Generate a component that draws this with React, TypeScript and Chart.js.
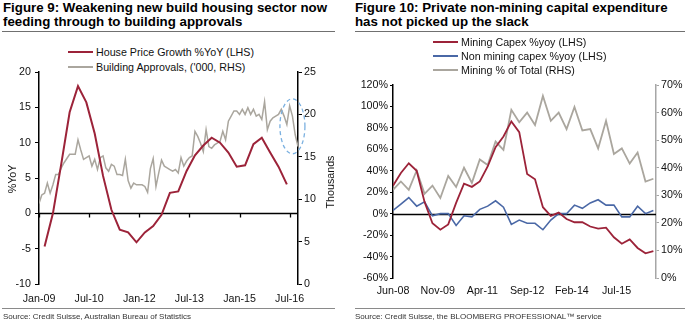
import React, { useEffect, useRef } from "react";
import { Chart, registerables } from "chart.js";

Chart.register(...registerables);

// ---------------- Figure 9 data ----------------
const fig9TickMonths = [0, 18, 36, 54, 72, 90];
const fig9TickLabels = ["Jan-09", "Jul-10", "Jan-12", "Jul-13", "Jan-15", "Jul-16"];
// House price growth, quarterly, months since Jan-09
const housePriceMonths = [2, 5, 8, 11, 14, 17, 20, 23, 26, 29, 32, 35, 38, 41, 44, 47, 50, 53, 56, 59, 62, 65, 68, 71, 74, 77, 80, 83, 86, 89];
const housePriceGrowth = [-4.7, 0.0, 7.0, 14.3, 18.0, 15.7, 11.3, 5.3, 0.5, -2.3, -2.7, -4.1, -2.7, -1.8, -0.2, 2.9, 3.1, 6.0, 8.2, 9.6, 10.7, 10.0, 8.6, 6.6, 6.8, 9.8, 10.7, 8.6, 6.6, 4.1];
// Building approvals ('000), monthly from Jan-09
const approvalsStartMonth = 0;
const buildingApprovals = [
  9.5, 10.5, 10.7, 11.9, 10.7, 11.7, 12.9, 12.9, 13.7, 14.3,
  14.8, 15.3, 15.3, 15.3, 17.0, 15.8, 14.7, 14.9, 15.1, 13.9,
  14.7, 13.5, 14.9, 15.1, 13.7, 13.3, 14.1, 13.9, 12.9, 12.9,
  12.8, 14.7, 12.2, 11.3, 11.9, 11.7, 11.7, 11.7, 11.5, 10.8,
  13.6, 14.8, 11.5, 13.1, 14.6, 13.9, 13.7, 13.5, 13.3, 13.5,
  13.1, 14.9, 13.9, 14.5, 14.9, 15.1, 18.0, 17.4, 16.6, 15.6,
  18.2, 16.2, 16.0, 16.4, 16.6, 16.8, 18.0, 17.0, 19.2, 19.8,
  20.4, 20.4, 20.0, 20.6, 20.0, 20.8, 20.0, 20.6, 19.8, 20.0,
  19.4, 21.5, 18.2, 19.2, 19.6, 19.8, 20.0, 20.6, 19.8, 18.8,
  21.0, 19.8, 17.6, 16.2,
];

// ---------------- Figure 10 data ----------------
const fig10TickMonths = [0, 17, 34, 51, 68, 85];
const fig10TickLabels = ["Jun-08", "Nov-09", "Apr-11", "Sep-12", "Feb-14", "Jul-15"];
// quarterly from Jun-08
const miningCapex = [26, 38, 47, 40, 11, -9, -15, -10, 10, 28, 25, 30, 44, 62, 72, 86, 76, 37, 32, 6, -2, 1, -5, -8, -8, -12, -14, -13, -22, -28, -24, -32, -37, -35];
const nonMiningCapex = [3, 9, 15, 7, 11, -2, 0, 0, -11, -2, -3, 4, 7, 12, 6, -10, -6, -9, -9, -15, -6, 0, 0, 8, 5, 10, 13, 8, 8, -3, -3, 7, 0, 3];
const miningShare = [32, 35, 32, 39, 30.5, 33.5, 29, 37, 33, 40, 34.5, 43, 41, 49.5, 46.5, 61, 56.5, 60, 55.5, 66, 57, 60, 54, 62, 53.5, 54, 47, 57, 45, 47, 41.5, 45.5, 35, 36];

const FONT = "'Liberation Sans', Arial, sans-serif";
const RED = "#9c2339";
const GRAY = "#aaa69e";
const BLUE = "#4a68a6";
const TICK_SIZE = 10.7;

const zeroLinePlugin = {
  id: "zeroLine",
  beforeDatasetsDraw(chart: any, _a: any, opts: any) {
    const { ctx, chartArea, scales } = chart;
    const y = Math.round(scales.y.getPixelForValue(0)) + 0.5;
    ctx.save();
    ctx.strokeStyle = "#000";
    ctx.lineWidth = 1.3;
    ctx.beginPath();
    ctx.moveTo(chartArea.left, y);
    ctx.lineTo(chartArea.right, y);
    if (opts && opts.ticks) {
      for (const t of scales.x.ticks) {
        const x = Math.round(scales.x.getPixelForValue(t.value)) + 0.5;
        ctx.moveTo(x, y);
        ctx.lineTo(x, y + 4);
      }
    }
    ctx.stroke();
    ctx.restore();
  },
};

const ellipsePlugin = {
  id: "ellipseNote",
  afterDatasetsDraw(chart: any, _a: any, opts: any) {
    if (!opts || opts.x === undefined) return;
    const { ctx, scales } = chart;
    const cx = scales.x.getPixelForValue(opts.x);
    const cy = scales[opts.scale].getPixelForValue(opts.y);
    ctx.save();
    ctx.strokeStyle = "#7ab0e0";
    ctx.lineWidth = 1.3;
    ctx.setLineDash([4, 3]);
    ctx.beginPath();
    ctx.ellipse(cx, cy, opts.rx, opts.ry, 0, 0, Math.PI * 2);
    ctx.stroke();
    ctx.restore();
  },
};

function Fig9() {
  const ref = useRef<HTMLCanvasElement>(null);
  useEffect(() => {
    const chart = new Chart(ref.current as HTMLCanvasElement, {
      type: "line",
      data: {
        datasets: [
          {
            label: "House Price Growth %YoY (LHS)",
            data: housePriceMonths.map((m, i) => ({ x: m, y: housePriceGrowth[i] })),
            borderColor: RED,
            borderWidth: 2,
            pointRadius: 0,
            tension: 0,
            yAxisID: "y",
          },
          {
            label: "Building Approvals, ('000, RHS)",
            data: buildingApprovals.map((v, i) => ({ x: approvalsStartMonth + i, y: v })),
            borderColor: GRAY,
            borderWidth: 1.5,
            pointRadius: 0,
            tension: 0,
            yAxisID: "y2",
          },
        ],
      },
      options: {
        responsive: false,
        devicePixelRatio: 1,
        animation: false,
        layout: { padding: { top: 12, bottom: 0, left: 0, right: 0 } },
        plugins: {
          legend: { display: false },
          tooltip: { enabled: false },
          zeroLine: { ticks: true },
          ellipseNote: { x: 91, y: 18.6, scale: "y2", rx: 12.5, ry: 27.5 },
        } as any,
        scales: {
          x: {
            type: "linear",
            min: 0,
            max: 93,
            grid: { display: false, drawTicks: false },
            border: { display: false },
            ticks: {
              color: "#111",
              font: { family: FONT, size: TICK_SIZE },
              padding: 9,
              maxRotation: 0,
              callback: (v: any) => {
                const k = fig9TickMonths.indexOf(Number(v));
                return k >= 0 ? fig9TickLabels[k] : "";
              },
            },
            afterBuildTicks: (s: any) => {
              s.ticks = fig9TickMonths.map((v) => ({ value: v }));
            },
            afterFit: (s: any) => {
              s.height = 26;
            },
          },
          y: {
            position: "left",
            min: -10,
            max: 20,
            ticks: { stepSize: 5, color: "#111", font: { family: FONT, size: TICK_SIZE }, padding: 4 },
            grid: { drawOnChartArea: false, drawTicks: true, tickLength: 4, color: "#000" },
            border: { display: true, color: "#000", width: 1.5 },
            afterFit: (s: any) => {
              s.width = 39;
            },
          },
          y2: {
            position: "right",
            min: 0,
            max: 25,
            ticks: { stepSize: 5, color: "#111", font: { family: FONT, size: TICK_SIZE }, padding: 2 },
            grid: { drawOnChartArea: false, drawTicks: true, tickLength: 4, color: "#000" },
            border: { display: true, color: "#000", width: 1.5 },
            afterFit: (s: any) => {
              s.width = 47;
            },
          },
        },
      },
      plugins: [zeroLinePlugin, ellipsePlugin],
    } as any);
    return () => chart.destroy();
  }, []);
  return (
    <canvas
      ref={ref}
      width={345}
      height={250}
      style={{ position: "absolute", left: 0, top: 60, width: 345, height: 250 }}
    />
  );
}

function Fig10() {
  const ref = useRef<HTMLCanvasElement>(null);
  useEffect(() => {
    const chart = new Chart(ref.current as HTMLCanvasElement, {
      type: "line",
      data: {
        datasets: [
          {
            label: "Mining Capex %yoy (LHS)",
            data: miningCapex.map((v, i) => ({ x: i * 3, y: v })),
            borderColor: RED,
            borderWidth: 1.8,
            pointRadius: 0,
            tension: 0,
            yAxisID: "y",
          },
          {
            label: "Non mining capex %yoy (LHS)",
            data: nonMiningCapex.map((v, i) => ({ x: i * 3, y: v })),
            borderColor: BLUE,
            borderWidth: 1.6,
            pointRadius: 0,
            tension: 0,
            yAxisID: "y",
          },
          {
            label: "Mining % of Total (RHS)",
            data: miningShare.map((v, i) => ({ x: i * 3, y: v })),
            borderColor: GRAY,
            borderWidth: 1.8,
            pointRadius: 0,
            tension: 0,
            yAxisID: "y2",
          },
        ],
      },
      options: {
        responsive: false,
        devicePixelRatio: 1,
        animation: false,
        layout: { padding: { top: 10, bottom: 0, left: 0, right: 0 } },
        plugins: {
          legend: { display: false },
          tooltip: { enabled: false },
          zeroLine: { ticks: false },
        } as any,
        scales: {
          x: {
            type: "linear",
            min: 0,
            max: 100,
            grid: { display: false, drawTicks: false },
            border: { display: false },
            ticks: {
              color: "#111",
              font: { family: FONT, size: TICK_SIZE },
              padding: 7,
              maxRotation: 0,
              callback: (v: any) => {
                const k = fig10TickMonths.indexOf(Number(v));
                return k >= 0 ? fig10TickLabels[k] : "";
              },
            },
            afterBuildTicks: (s: any) => {
              s.ticks = fig10TickMonths.map((v) => ({ value: v }));
            },
            afterFit: (s: any) => {
              s.height = 32;
            },
          },
          y: {
            position: "left",
            min: -60,
            max: 120,
            ticks: {
              stepSize: 20,
              color: "#111",
              font: { family: FONT, size: TICK_SIZE },
              padding: 2,
              callback: (v: any) => v + "%",
            },
            grid: { drawOnChartArea: false, drawTicks: true, tickLength: 3, color: "#000" },
            border: { display: true, color: "#000", width: 1.5 },
            afterFit: (s: any) => {
              s.width = 48;
            },
          },
          y2: {
            position: "right",
            min: 0,
            max: 70,
            ticks: {
              stepSize: 10,
              color: "#111",
              font: { family: FONT, size: TICK_SIZE },
              padding: 2,
              callback: (v: any) => v + "%",
            },
            grid: { drawOnChartArea: false, drawTicks: true, tickLength: 3, color: "#a6a6a6" },
            border: { display: true, color: "#a6a6a6", width: 1.5 },
            afterFit: (s: any) => {
              s.width = 33;
            },
          },
        },
      },
      plugins: [zeroLinePlugin],
    } as any);
    return () => chart.destroy();
  }, []);
  return (
    <canvas
      ref={ref}
      width={344}
      height={235}
      style={{ position: "absolute", left: 345, top: 75, width: 344, height: 235 }}
    />
  );
}

const titleStyle: React.CSSProperties = {
  position: "absolute",
  fontFamily: FONT,
  fontWeight: "bold",
  fontSize: 13.3,
  lineHeight: "14.3px",
  color: "#000",
  whiteSpace: "nowrap",
  margin: 0,
};

const textStyle: React.CSSProperties = {
  position: "absolute",
  fontFamily: FONT,
  fontSize: TICK_SIZE,
  lineHeight: "12px",
  color: "#111",
  whiteSpace: "nowrap",
};

function LegendRow(props: { x: number; y: number; color: string; label: string }) {
  return (
    <>
      <div
        style={{ position: "absolute", left: props.x, top: props.y - 1, width: 25, height: 2, background: props.color }}
      />
      <div style={{ ...textStyle, left: props.x + 28, top: props.y - 6 }}>{props.label}</div>
    </>
  );
}

export default function App() {
  return (
    <div
      style={{
        position: "absolute",
        left: 0,
        top: 0,
        width: 689,
        height: 324,
        background: "#fff",
        overflow: "hidden",
      }}
    >
      {/* Figure 9 */}
      <div style={{ ...titleStyle, left: 3, top: 1 }}>
        Figure 9: Weakening new build housing sector now
        <br />
        feeding through to building approvals
      </div>
      <div style={{ position: "absolute", left: 2, top: 31, width: 333, height: 0, borderTop: "1.5px solid #707070" }} />
      <LegendRow x={68} y={52} color={RED} label="House Price Growth %YoY (LHS)" />
      <LegendRow x={68} y={67} color={GRAY} label="Building Approvals, ('000, RHS)" />
      <Fig9 />
      <div
        style={{
          ...textStyle,
          left: 12 - 30,
          top: 179 - 6,
          width: 60,
          textAlign: "center",
          transform: "rotate(-90deg)",
        }}
      >
        %YoY
      </div>
      <div
        style={{
          ...textStyle,
          left: 330 - 30,
          top: 182 - 6,
          width: 60,
          textAlign: "center",
          transform: "rotate(-90deg)",
        }}
      >
        Thousands
      </div>
      <div style={{ position: "absolute", left: 2, top: 308, width: 333, height: 0, borderTop: "1px solid #8a8a8a" }} />
      <div style={{ ...textStyle, fontSize: 8, lineHeight: "10px", color: "#333", left: 3, top: 312 }}>
        Source: Credit Suisse, Australian Bureau of Statistics
      </div>

      {/* Figure 10 */}
      <div style={{ ...titleStyle, left: 355, top: 1 }}>
        Figure 10: Private non-mining capital expenditure
        <br />
        has not picked up the slack
      </div>
      <div style={{ position: "absolute", left: 355, top: 31, width: 330, height: 0, borderTop: "1.5px solid #707070" }} />
      <LegendRow x={433} y={42} color={RED} label="Mining Capex %yoy (LHS)" />
      <LegendRow x={433} y={56} color={BLUE} label="Non mining capex %yoy (LHS)" />
      <LegendRow x={433} y={70} color={GRAY} label="Mining % of Total (RHS)" />
      <Fig10 />
      <div style={{ position: "absolute", left: 355, top: 308, width: 330, height: 0, borderTop: "1px solid #8a8a8a" }} />
      <div style={{ ...textStyle, fontSize: 8, lineHeight: "10px", color: "#333", left: 355, top: 312 }}>
        Source: Credit Suisse, the BLOOMBERG PROFESSIONAL™ service
      </div>
    </div>
  );
}
